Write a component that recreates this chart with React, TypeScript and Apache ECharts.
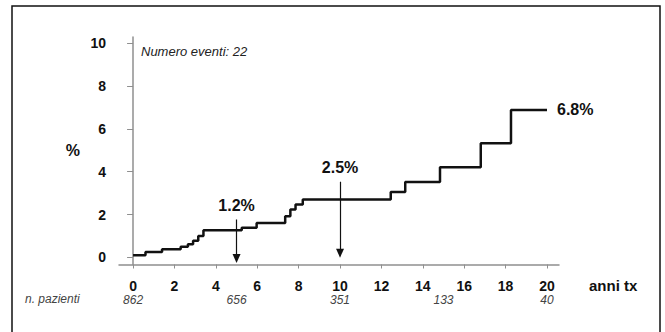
import React, { useEffect, useRef } from "react";
import * as echarts from "echarts";

// Cumulative incidence steps: [years, %]
const stepYears = [0, 0.6, 1.4, 2.3, 2.65, 2.9, 3.15, 3.4, 5.25, 5.97, 7.35, 7.6, 7.85, 8.2, 12.45, 13.15, 14.83, 16.8, 18.26, 20];
const stepValues = [0.1, 0.25, 0.38, 0.5, 0.62, 0.78, 1.0, 1.27, 1.38, 1.61, 1.92, 2.23, 2.47, 2.7, 3.05, 3.52, 4.2, 5.33, 6.88, 6.88];

const xTicks = [0, 2, 4, 6, 8, 10, 12, 14, 16, 18, 20];
const yTicks = [0, 2, 4, 6, 8, 10];

const patientYears = [0, 5, 10, 15, 20];
const patientCounts = ["862", "656", "351", "133", "40"];

// arrows: [year, from %, to %, label]
const arrowYears = [5, 10];
const arrowFrom = [1.77, 3.53];
const arrowTo = [-0.05, 0.2];
const arrowLabels = ["1.2%", "2.5%"];
const endLabel = "6.8%";

const FONT = "'Liberation Sans', Arial, sans-serif";

export default function App() {
  const ref = useRef<HTMLDivElement>(null);
  useEffect(() => {
    if (!ref.current) return;
    const chart = echarts.init(ref.current, undefined, { renderer: "svg" });
    const axisColor = "#8f8f8f";
    const data = stepYears.map((x, i) => [x, stepValues[i]]);
    const arrowData = arrowYears.map((x, i) => [
      { coord: [x, arrowFrom[i]], symbol: "none", label: { formatter: arrowLabels[i] } },
      { coord: [x, arrowTo[i]], symbol: "triangle", symbolSize: [8, 9] },
    ]);
    chart.setOption({
      animation: false,
      backgroundColor: "#ffffff",
      textStyle: { fontFamily: FONT },
      grid: { left: 119, right: 106, top: 37, bottom: 67.5, containLabel: false },
      xAxis: [
        {
          type: "value",
          min: -0.68,
          max: 20.58,
          axisLine: { show: true, onZero: false, lineStyle: { color: axisColor, width: 1.5 } },
          axisTick: { show: true, length: 4, customValues: xTicks, lineStyle: { color: axisColor } },
          axisLabel: {
            customValues: xTicks,
            margin: 14,
            color: "#111",
            fontWeight: "bold",
            fontSize: 14,
            fontFamily: FONT,
          },
          splitLine: { show: false },
        },
        {
          type: "value",
          position: "bottom",
          min: -0.68,
          max: 20.58,
          axisLine: { show: false },
          axisTick: { show: false },
          axisLabel: {
            customValues: patientYears,
            margin: 29,
            color: "#444",
            fontStyle: "italic",
            fontSize: 12,
            fontFamily: FONT,
            formatter: (v: number) => {
              const i = patientYears.indexOf(Math.round(v));
              return i >= 0 ? patientCounts[i] : "";
            },
          },
          splitLine: { show: false },
        },
      ],
      yAxis: {
        type: "value",
        min: -0.33,
        max: 10.28,
        name: "%",
        nameLocation: "middle",
        nameGap: 39,
        nameRotate: 0,
        nameTextStyle: { color: "#111", fontWeight: "bold", fontSize: 16, fontFamily: FONT },
        axisLine: { show: true, lineStyle: { color: axisColor, width: 1.5 } },
        axisTick: { show: true, length: 6, customValues: yTicks, lineStyle: { color: axisColor } },
        axisLabel: {
          customValues: yTicks,
          margin: 13,
          color: "#111",
          fontWeight: "bold",
          fontSize: 14,
          fontFamily: FONT,
        },
        splitLine: { show: false },
      },
      series: [
        {
          type: "line",
          xAxisIndex: 0,
          step: "end",
          data,
          symbol: "none",
          lineStyle: { color: "#111", width: 2.5 },
          endLabel: {
            show: true,
            formatter: endLabel,
            distance: 10,
            color: "#111",
            fontWeight: "bold",
            fontSize: 16,
            fontFamily: FONT,
          },
          markLine: {
            silent: true,
            symbol: ["none", "triangle"],
            symbolSize: 9,
            itemStyle: { color: "#111" },
            lineStyle: { color: "#111", width: 1.2, type: "solid" },
            label: {
              show: true,
              position: "start",
              distance: 6,
              color: "#111",
              fontWeight: "bold",
              fontSize: 16,
              fontFamily: FONT,
            },
            emphasis: { disabled: true },
            data: arrowData,
          },
        },
      ],
      graphic: [
        {
          type: "rect",
          shape: { x: 12, y: 6, width: 648, height: 340 },
          style: { fill: "none", stroke: "#111", lineWidth: 1.5 },
          silent: true,
        },
        {
          type: "text",
          x: 141,
          y: 51,
          style: {
            text: "Numero eventi: 22",
            fontStyle: "italic",
            fontSize: 13,
            fontFamily: FONT,
            fill: "#222",
            verticalAlign: "middle",
          },
        },
        {
          type: "text",
          x: 589,
          y: 285,
          style: {
            text: "anni tx",
            fontWeight: "bold",
            fontSize: 15,
            fontFamily: FONT,
            fill: "#111",
            verticalAlign: "middle",
          },
        },
        {
          type: "text",
          x: 25,
          y: 299,
          style: {
            text: "n. pazienti",
            fontStyle: "italic",
            fontSize: 12,
            fontFamily: FONT,
            fill: "#444",
            verticalAlign: "middle",
          },
        },
      ],
    });
    return () => chart.dispose();
  }, []);
  return (
    <div
      ref={ref}
      style={{ position: "fixed", left: 0, top: 0, width: 665, height: 332, background: "#fff" }}
    />
  );
}
